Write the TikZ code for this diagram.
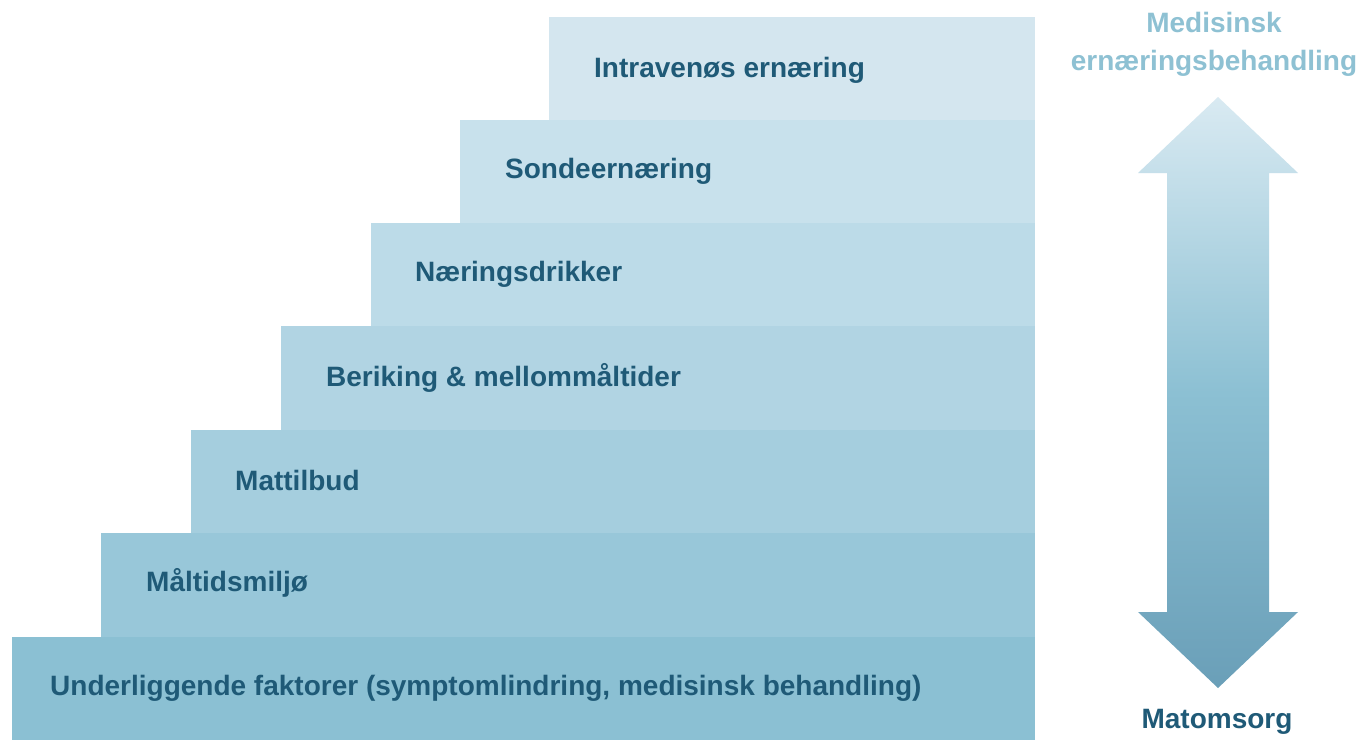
\documentclass[tikz,border=0pt]{standalone}
\usepackage{fontspec}
\setmainfont{Liberation Sans}
\begin{document}
\begin{tikzpicture}[x=1pt,y=-1pt,
  steplabel/.style={anchor=west, font=\fontsize{28}{32}\selectfont\bfseries, text=labeldark, inner sep=0pt},
  sidelabel/.style={font=\fontsize{28}{38}\selectfont\bfseries, align=center, inner sep=0pt}]
\definecolor{labeldark}{HTML}{1F5A77}
\definecolor{labellight}{HTML}{8EC1D3}
\definecolor{sA}{HTML}{8BC0D3}
\definecolor{sB}{HTML}{98C7D9}
\definecolor{sC}{HTML}{A5CEDE}
\definecolor{sD}{HTML}{B1D4E3}
\definecolor{sE}{HTML}{BCDBE8}
\definecolor{sF}{HTML}{C8E1EC}
\definecolor{sG}{HTML}{D4E6EF}
\definecolor{arrTop}{HTML}{D9EAF2}
\definecolor{arrMid}{HTML}{8CC0D3}
\definecolor{arrBot}{HTML}{6A9FB8}
\useasboundingbox (0,0) rectangle (1370,742);
\fill[white] (0,0) rectangle (1370,742);

% staircase, bottom step first
\fill[sA] (12,637) rectangle (1035,740);
\fill[sB] (101,533) rectangle (1035,637);
\fill[sC] (191,430) rectangle (1035,533);
\fill[sD] (281,326) rectangle (1035,430);
\fill[sE] (371,223) rectangle (1035,326);
\fill[sF] (460,120) rectangle (1035,223);
\fill[sG] (549,17) rectangle (1035,120);

% step labels
\node[steplabel] (s1) at (50,688) {Underliggende faktorer (symptomlindring, medisinsk behandling)};
\node[steplabel] (s2) at (146,583) {Måltidsmiljø};
\node[steplabel] (s3) at (235,480) {Mattilbud};
\node[steplabel] (s4) at (326,378) {Beriking \& mellommåltider};
\node[steplabel] (s5) at (415,274) {Næringsdrikker};
\node[steplabel] (s6) at (505,171) {Sondeernæring};
\node[steplabel] (s7) at (594,70) {Intravenøs ernæring};

% double-headed scale arrow
\shade[top color=arrTop, bottom color=arrBot, middle color=arrMid]
  (1218,97) -- (1298,173) -- (1269,173) -- (1269,612) -- (1298,612)
  -- (1218,688) -- (1138,612) -- (1167,612) -- (1167,173) -- (1138,173) -- cycle;

\node[sidelabel, text=labellight] (top) at (1214,44) {Medisinsk\\ernæringsbehandling};
\node[sidelabel, text=labeldark] (bot) at (1217,722) {Matomsorg};
\end{tikzpicture}
\end{document}
